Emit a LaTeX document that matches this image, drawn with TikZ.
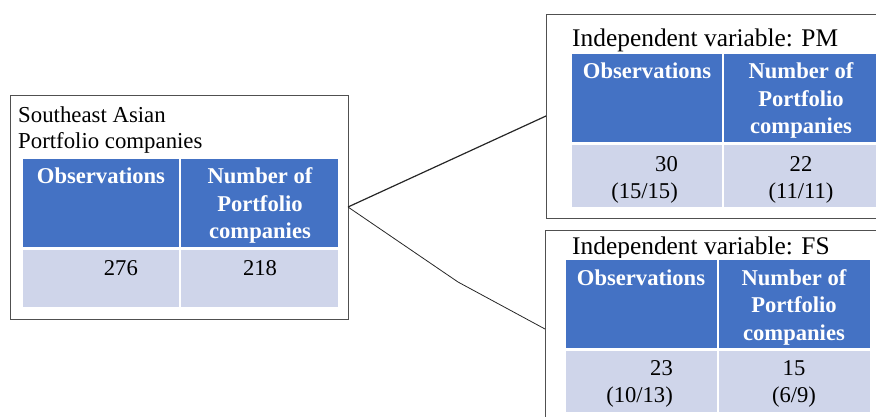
\documentclass[tikz,border=0pt]{standalone}
\usepackage{fontspec}
\setmainfont{Liberation Serif}
\definecolor{hdrblue}{HTML}{4472C4}
\definecolor{rowblue}{HTML}{CFD5EA}
\definecolor{framegray}{HTML}{505050}
\begin{document}
\begin{tikzpicture}[x=1pt,y=-1pt,
  frame/.style={draw=framegray, line width=1pt, inner sep=0pt, outer sep=0pt},
  hcell/.style={fill=hdrblue, draw=white, line width=1.5pt},
  dcell/.style={fill=rowblue, draw=white, line width=1.5pt},
  plain/.style={font=\fontsize{22.8}{26}\selectfont, inner sep=0pt, align=left, anchor=base west},
  bigtitle/.style={font=\fontsize{25.4}{29}\selectfont, inner sep=0pt, anchor=base west},
  htext/.style={font=\fontsize{22.6}{27.5}\selectfont\bfseries, text=white, inner sep=0pt, align=center, anchor=base},
  dtext/.style={font=\fontsize{22.6}{27}\selectfont, inner sep=0pt, align=right, anchor=base east},
  dtextc/.style={font=\fontsize{22.6}{27}\selectfont, inner sep=0pt, align=center, anchor=base},
  link/.style={draw=black!85}]
\useasboundingbox (0,0) rectangle (876,416);
\clip (0,0) rectangle (876,416);

% (multi-line nodes are anchored at the baseline of their last line)

% ---- Southeast Asian sample ----
\node[frame, minimum width=338pt, minimum height=224pt] (src) at (179,207) {};
\node[plain] (srctitle) at (18,148) {Southeast Asian\\Portfolio companies};
\path[hcell] (22,158) rectangle (180,248);
\path[hcell] (180,158) rectangle (339,248);
\path[dcell] (22,249) rectangle (180,308);
\path[dcell] (180,249) rectangle (339,308);
\node[htext] (srcobs) at (101,183) {Observations};
\node[htext] (srcnum) at (260,238.5) {Number of\\Portfolio\\companies};
\node[dtext] (srcobsv) at (138,275) {276};
\node[dtextc] (srcnumv) at (260,275) {218};

% ---- Independent variable: PM ----
\node[frame, minimum width=344pt, minimum height=204pt] (pm) at (718,116) {};
\node[bigtitle] (pmtitle) at (572,46) {Independent variable: PM};
\path[hcell] (571,53) rectangle (723,143);
\path[hcell] (723,53) rectangle (879,143);
\path[dcell] (571,144) rectangle (723,208);
\path[dcell] (723,144) rectangle (879,208);
\node[htext] (pmobs) at (647,78.5) {Observations};
\node[htext] (pmnum) at (801,133.5) {Number of\\Portfolio\\companies};
\node[dtext] (pmobsv) at (678,198) {30\\(15/15)};
\node[dtextc] (pmnumv) at (801,198) {22\\(11/11)};

% ---- Independent variable: FS ----
\node[frame, minimum width=345pt, minimum height=198pt] (fs) at (717.5,329) {};
\node[bigtitle] (fstitle) at (572,254) {Independent variable: FS};
\path[hcell] (565,259) rectangle (718,349);
\path[hcell] (718,259) rectangle (871,349);
\path[dcell] (565,350) rectangle (718,413);
\path[dcell] (718,350) rectangle (871,413);
\node[htext] (fsobs) at (641,285) {Observations};
\node[htext] (fsnum) at (794,340) {Number of\\Portfolio\\companies};
\node[dtext] (fsobsv) at (673,402) {23\\(10/13)};
\node[dtextc] (fsnumv) at (794,402) {15\\(6/9)};

% ---- connectors ----
\coordinate (kink) at (458,282);
\draw[link, line width=1.2pt] (src.east) -- (pm.west);
\draw[link, line width=0.8pt] (src.east) -- (kink) -- (fs.west);
\end{tikzpicture}
\end{document}
